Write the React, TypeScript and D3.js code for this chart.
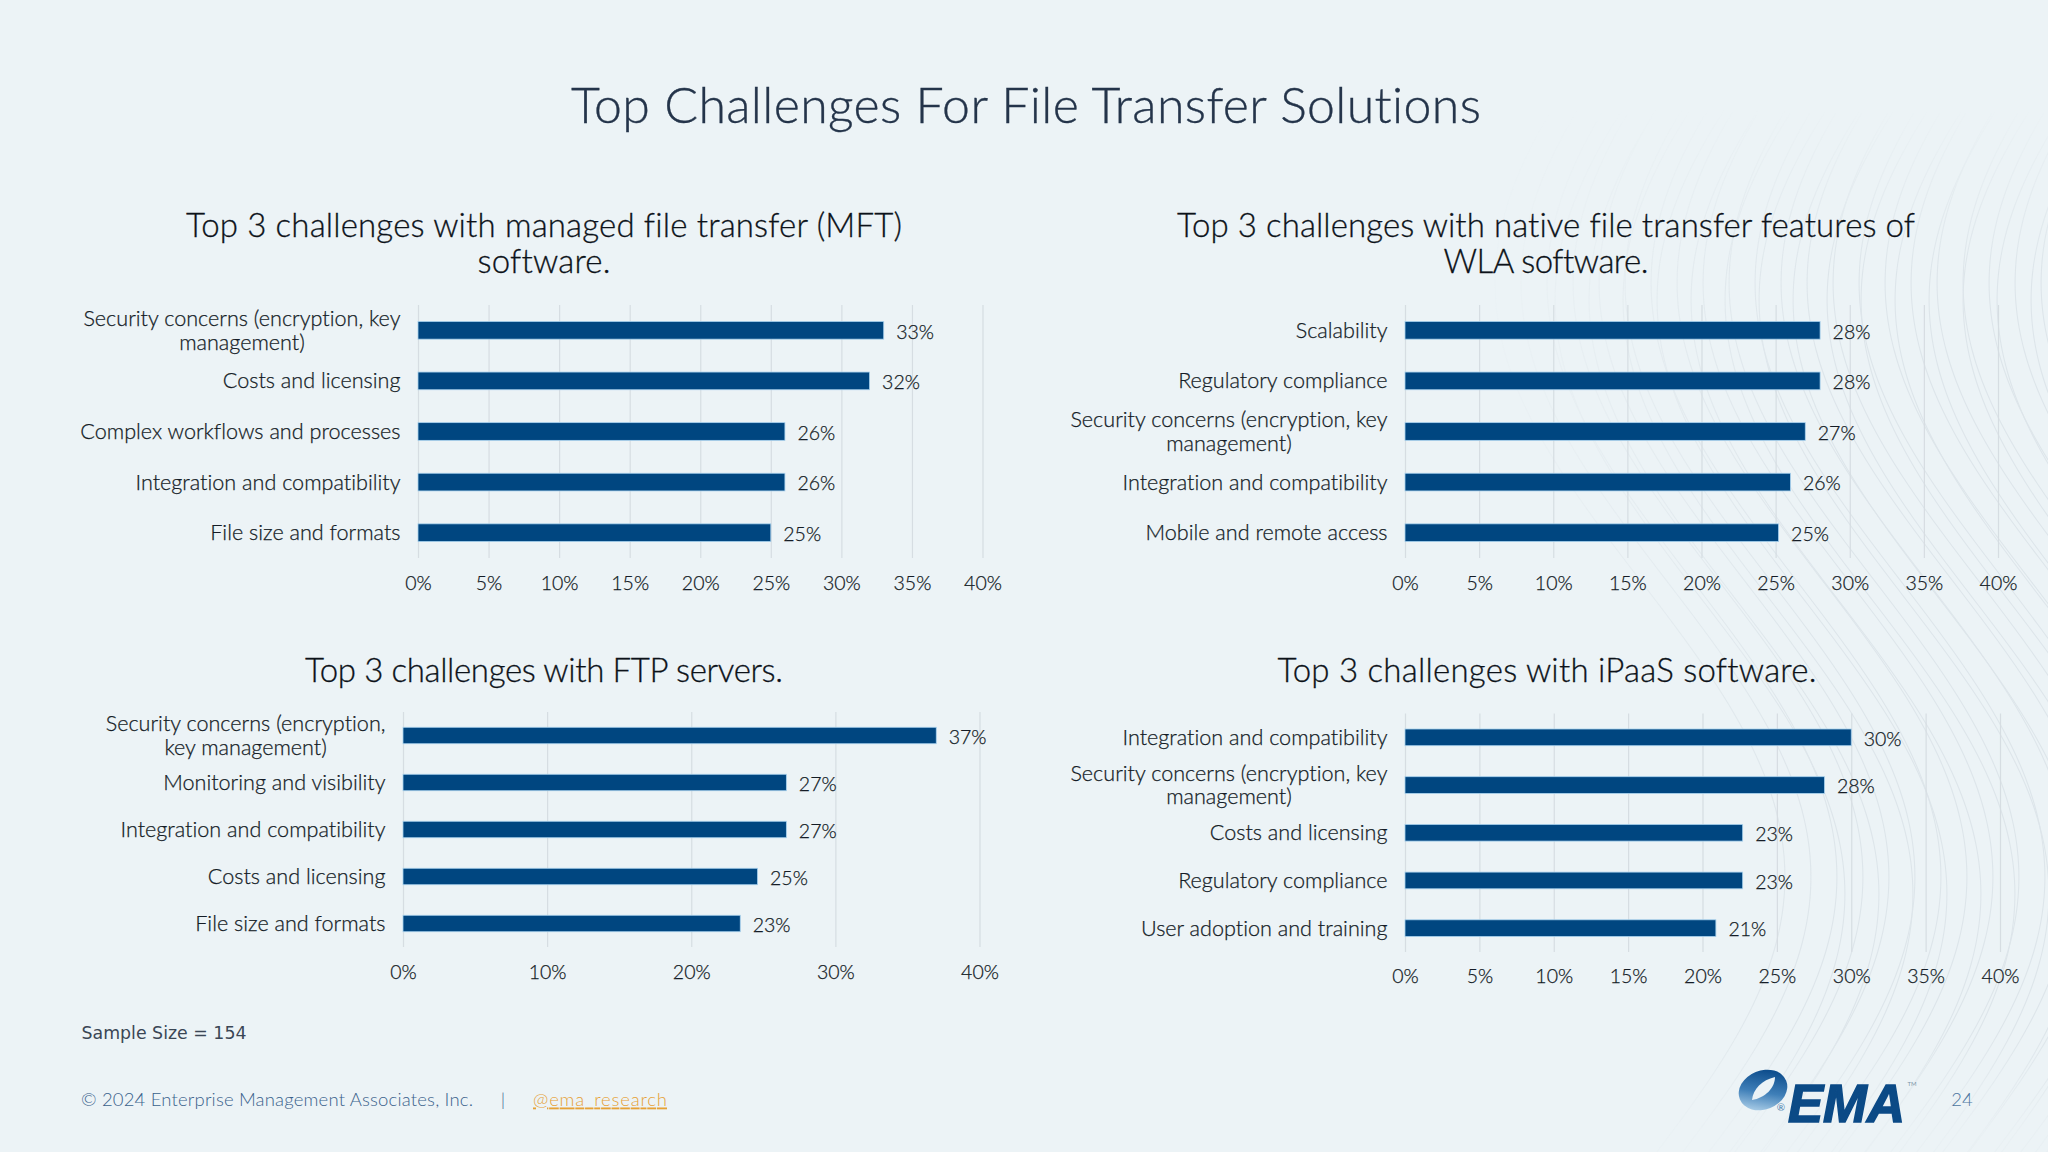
import React, { useEffect, useRef } from 'react';
import * as d3 from 'd3';

const pageTitle = 'Top Challenges For File Transfer Solutions';

const mftTitle = ['Top 3 challenges with managed file transfer (MFT)', 'software.'];
const mftCategories = [
  'Security concerns (encryption, key\nmanagement)',
  'Costs and licensing',
  'Complex workflows and processes',
  'Integration and compatibility',
  'File size and formats',
];
const mftValues = [33, 32, 26, 26, 25];

const wlaTitle = ['Top 3 challenges with native file transfer features of', 'WLA software.'];
const wlaCategories = [
  'Scalability',
  'Regulatory compliance',
  'Security concerns (encryption, key\nmanagement)',
  'Integration and compatibility',
  'Mobile and remote access',
];
const wlaValues = [28, 28, 27, 26, 25.2];

const ftpTitle = ['Top 3 challenges with FTP servers.'];
const ftpCategories = [
  'Security concerns (encryption,\nkey management)',
  'Monitoring and visibility',
  'Integration and compatibility',
  'Costs and licensing',
  'File size and formats',
];
const ftpValues = [37, 26.6, 26.6, 24.6, 23.4];

const ipaasTitle = ['Top 3 challenges with iPaaS software.'];
const ipaasCategories = [
  'Integration and compatibility',
  'Security concerns (encryption, key\nmanagement)',
  'Costs and licensing',
  'Regulatory compliance',
  'User adoption and training',
];
const ipaasValues = [30, 28.2, 22.7, 22.7, 20.9];

const fineTicks = [0, 5, 10, 15, 20, 25, 30, 35, 40];
const wideTicks = [0, 10, 20, 30, 40];

const BG = '#ecf3f6';
const BAR = '#004680';
const FONT = 'Lato, sans-serif';
const INK = '#141c26';

const App: React.FC = () => {
  const svgRef = useRef<SVGSVGElement>(null);

  useEffect(() => {
    if (!svgRef.current) return;
    const svg = d3.select(svgRef.current);
    svg.selectAll('*').remove();
    svg.style('font-variant-ligatures', 'none');

    const defs = svg.append('defs');
    const fade = defs.append('linearGradient').attr('id', 'waveFade')
      .attr('gradientUnits', 'userSpaceOnUse')
      .attr('x1', 1480).attr('x2', 1820).attr('y1', 0).attr('y2', 0);
    fade.append('stop').attr('offset', 0).attr('stop-color', '#fff').attr('stop-opacity', 0);
    fade.append('stop').attr('offset', 1).attr('stop-color', '#fff').attr('stop-opacity', 1);
    const fadeY = defs.append('linearGradient').attr('id', 'waveFadeY')
      .attr('gradientUnits', 'userSpaceOnUse')
      .attr('x1', 0).attr('x2', 0).attr('y1', 110).attr('y2', 1130);
    [[0, 0], [0.16, 1], [0.9, 1], [1, 0.2]].forEach(([o, a]) => {
      fadeY.append('stop').attr('offset', o).attr('stop-color', '#fff').attr('stop-opacity', a);
    });
    const maskX = defs.append('mask').attr('id', 'waveMaskX').attr('maskUnits', 'userSpaceOnUse')
      .attr('x', 0).attr('y', 0).attr('width', 2048).attr('height', 1152);
    maskX.append('rect').attr('width', 2048).attr('height', 1152).attr('fill', 'url(#waveFade)');
    const maskY = defs.append('mask').attr('id', 'waveMaskY').attr('maskUnits', 'userSpaceOnUse')
      .attr('x', 0).attr('y', 0).attr('width', 2048).attr('height', 1152);
    maskY.append('rect').attr('width', 2048).attr('height', 1152).attr('fill', 'url(#waveFadeY)');
    const swoosh = defs.append('linearGradient').attr('id', 'swoosh')
      .attr('x1', 0.85).attr('y1', 0.05).attr('x2', 0.15).attr('y2', 0.95);
    swoosh.append('stop').attr('offset', 0.1).attr('stop-color', '#0f4f8e');
    swoosh.append('stop').attr('offset', 0.55).attr('stop-color', '#3f7fb8');
    swoosh.append('stop').attr('offset', 1).attr('stop-color', '#b5d5ec');

    svg.append('rect').attr('width', 2048).attr('height', 1152).attr('fill', BG);

    // faint wave decoration behind the right column
    const waveY = d3.range(100, 1170, 12);
    const wave = d3.line<number>().curve(d3.curveBasis);
    const waves = svg.append('g').attr('mask', 'url(#waveMaskY)')
      .append('g').attr('mask', 'url(#waveMaskX)');
    const drawWaves = (offsets: number[], phase: number) => {
      waves.append('g').attr('fill', 'none').attr('stroke', '#dde5ea').attr('stroke-width', 1.1)
        .selectAll('path').data(offsets).join('path')
        .attr('d', (o) => wave(waveY.map((y) => [
          o - 145 * Math.cos((2 * Math.PI * (y - phase)) / 1188),
          y,
        ] as [number, number])));
    };
    drawWaves(d3.range(1640, 2320, 26), 283);
    drawWaves(d3.range(1700, 2300, 34), 300);

    svg.append('text').text(pageTitle)
      .attr('x', 1026).attr('y', 105).attr('dy', '0.35em')
      .attr('text-anchor', 'middle')
      .attr('textLength', 910).attr('lengthAdjust', 'spacing')
      .attr('stroke', '#24344a').attr('stroke-width', 0.35)
      .style('font-family', FONT).style('font-weight', 300).style('font-size', '50px')
      .style('fill', '#24344a');

    const panels = [
      { title: mftTitle, titleW: [716, 133], categories: mftCategories, values: mftValues, ticks: fineTicks,
        x: [418, 982.5], y: [305, 558], titleX: 544, titleY: 225, tickGap: 25.5 },
      { title: wlaTitle, titleW: [738, 205], categories: wlaCategories, values: wlaValues, ticks: fineTicks,
        x: [1405, 1998], y: [305, 558], titleX: 1546, titleY: 225, tickGap: 25.5 },
      { title: ftpTitle, titleW: [478], categories: ftpCategories, values: ftpValues, ticks: wideTicks,
        x: [403, 979.5], y: [712, 947], titleX: 544, titleY: 670, tickGap: 25.5 },
      { title: ipaasTitle, titleW: [539], categories: ipaasCategories, values: ipaasValues, ticks: fineTicks,
        x: [1405, 2000], y: [713.5, 952], titleX: 1547, titleY: 670, tickGap: 24.5 },
    ];

    panels.forEach((p) => {
      const g = svg.append('g');
      const xScale = d3.scaleLinear().domain([0, 40]).range(p.x);
      const yScale = d3.scaleBand<string>().domain(p.categories).range(p.y)
        .paddingInner(0.65).paddingOuter(0.325);

      p.title.forEach((line, i) => {
        g.append('text').text(line)
          .attr('x', p.titleX).attr('y', p.titleY + i * 36.5).attr('dy', '0.35em')
          .attr('text-anchor', 'middle')
          .attr('textLength', p.titleW[i]).attr('lengthAdjust', 'spacing')
          .attr('stroke', '#0c1219').attr('stroke-width', 0.3)
          .style('font-family', FONT).style('font-weight', 300).style('font-size', '33px').style('fill', '#0c1219');
      });

      const axis = d3.axisBottom(xScale)
        .tickValues(p.ticks)
        .tickFormat((d) => `${d}%`)
        .tickSizeInner(-(p.y[1] - p.y[0]))
        .tickSizeOuter(0)
        .tickPadding(p.tickGap - 7);
      const axisG = g.append('g').attr('transform', `translate(0,${p.y[1]})`).call(axis);
      axisG.select('.domain').remove();
      axisG.selectAll('line').attr('stroke', '#d6dde2').attr('stroke-width', 1.2);
      axisG.selectAll('text')
        .attr('stroke', INK).attr('stroke-width', 0.25)
        .style('font-family', FONT).style('font-weight', 300).style('font-size', '19.5px').style('fill', INK);

      g.selectAll('rect.bar').data(p.values).join('rect')
        .attr('class', 'bar')
        .attr('x', xScale(0))
        .attr('y', (_, i) => yScale(p.categories[i]) as number)
        .attr('width', (d) => xScale(d) - xScale(0))
        .attr('height', yScale.bandwidth())
        .attr('fill', BAR)
        .attr('stroke', '#a9d2ee').attr('stroke-width', 0.8);

      g.selectAll('text.value').data(p.values).join('text')
        .attr('class', 'value')
        .attr('x', (d) => xScale(d) + 12.5)
        .attr('y', (_, i) => (yScale(p.categories[i]) as number) + yScale.bandwidth() / 2 + 1.5)
        .attr('dy', '0.35em')
        .attr('stroke', INK).attr('stroke-width', 0.25)
        .style('font-family', FONT).style('font-weight', 300).style('font-size', '19.5px').style('fill', INK)
        .text((d) => `${Math.round(d)}%`);

      // category labels: block hugs the axis, wrapped lines are centred inside it
      const right = xScale(0) - 17.5;
      p.categories.forEach((cat) => {
        const lines = cat.split('\n');
        const cy = (yScale(cat) as number) + yScale.bandwidth() / 2;
        const texts = lines.map((line, i) =>
          g.append('text').text(line)
            .attr('y', cy + (i - (lines.length - 1) / 2) * 23.5)
            .attr('dy', '0.35em')
            .attr('text-anchor', 'middle')
            .attr('stroke', INK).attr('stroke-width', 0.25)
            .style('font-family', FONT).style('font-weight', 300).style('font-size', '21.6px').style('fill', INK));
        const w = d3.max(texts, (t) => (t.node() as SVGTextElement).getComputedTextLength()) as number;
        texts.forEach((t) => t.attr('x', right - w / 2));
      });
    });

    // footer
    svg.append('text').text('Sample Size = 154')
      .attr('x', 81.5).attr('y', 1033).attr('dy', '0.35em')
      .attr('textLength', 165).attr('lengthAdjust', 'spacingAndGlyphs')
      .style('font-family', '"DejaVu Sans", sans-serif').style('font-size', '17px').style('fill', '#3a4655');

    const foot = svg.append('g').style('font-family', FONT).style('font-size', '18.5px').style('font-weight', 300);
    foot.append('text').text('© 2024 Enterprise Management Associates, Inc.')
      .attr('x', 81).attr('y', 1100).attr('dy', '0.35em')
      .attr('textLength', 392).attr('lengthAdjust', 'spacing').style('fill', '#3a628c');
    foot.append('text').text('|')
      .attr('x', 503).attr('y', 1100).attr('dy', '0.35em').attr('text-anchor', 'middle').style('fill', '#3a628c');
    foot.append('text').text('@ema_research')
      .attr('x', 533).attr('y', 1100).attr('dy', '0.35em')
      .attr('textLength', 134).attr('lengthAdjust', 'spacing')
      .style('fill', '#e6a236').style('text-decoration', 'underline');
    foot.append('text').text('24')
      .attr('x', 1962).attr('y', 1100).attr('dy', '0.35em').attr('text-anchor', 'middle').style('fill', '#4d769f');

    // logo
    const logo = svg.append('g');
    logo.append('ellipse')
      .attr('cx', 1763).attr('cy', 1090).attr('rx', 25).attr('ry', 19.5)
      .attr('transform', 'rotate(-22 1763 1090)')
      .attr('fill', 'url(#swoosh)');
    logo.append('path')
      .attr('d', 'M1752 1100 C1753 1089 1762 1080 1775 1077 C1775 1088 1765 1098 1752 1100 Z')
      .attr('fill', BG);
    logo.append('text').text('EMA')
      .attr('x', 1788).attr('y', 1122)
      .attr('textLength', 117).attr('lengthAdjust', 'spacingAndGlyphs')
      .attr('stroke', '#0b4a86').attr('stroke-width', 1.6)
      .style('font-family', '"Liberation Sans", sans-serif').style('font-weight', 700).style('font-style', 'italic')
      .style('font-size', '54px').style('fill', '#0b4a86');
    logo.append('text').text('®')
      .attr('x', 1781).attr('y', 1111).attr('text-anchor', 'middle')
      .style('font-family', FONT).style('font-size', '10px').style('fill', '#4a7eae');
    logo.append('text').text('TM')
      .attr('x', 1912).attr('y', 1086).attr('text-anchor', 'middle')
      .style('font-family', FONT).style('font-size', '6px').style('fill', '#7d94a8');
  }, []);

  return (
    <svg ref={svgRef} width={2048} height={1152}
      style={{ position: 'absolute', left: 0, top: 0, display: 'block' }} />
  );
};

export default App;
